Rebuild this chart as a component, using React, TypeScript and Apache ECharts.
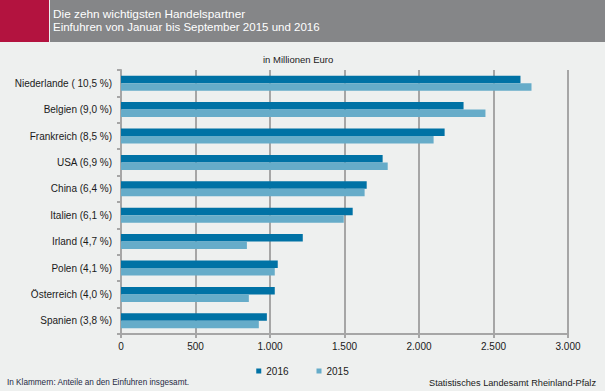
import React, { useEffect, useRef } from "react";
import * as echarts from "echarts";

const categories = [
  "Niederlande ( 10,5 %)",
  "Belgien (9,0 %)",
  "Frankreich (8,5 %)",
  "USA (6,9 %)",
  "China (6,4 %)",
  "Italien (6,1 %)",
  "Irland (4,7 %)",
  "Polen (4,1 %)",
  "Österreich (4,0 %)",
  "Spanien (3,8 %)",
];
const values2016 = [2681, 2299, 2172, 1756, 1649, 1555, 1220, 1052, 1032, 979];
const values2015 = [2755, 2446, 2098, 1790, 1635, 1495, 845, 1032, 858, 925];
const titleLines = [
  "Die zehn wichtigsten Handelspartner",
  "Einfuhren von Januar bis September 2015 und 2016",
];
const unitLabel = "in Millionen Euro";
const footnote = "In Klammern: Anteile an den Einfuhren insgesamt.";
const sourceText = "Statistisches Landesamt Rheinland-Pfalz";

const FONT = "'Liberation Sans', Arial, sans-serif";

export default function App() {
  const ref = useRef<HTMLDivElement>(null);
  useEffect(() => {
    const chart = echarts.init(ref.current!, null, { renderer: "svg" });
    chart.setOption({
      animation: false,
      backgroundColor: "#EEF0EF",
      textStyle: { fontFamily: FONT },
      graphic: [
        { type: "rect", left: 0, top: 0, shape: { width: 49, height: 42 }, style: { fill: "#B3133F" } },
        { type: "rect", left: 50, top: 0, shape: { width: 555, height: 42 }, style: { fill: "#858688" } },
        { type: "text", left: 53, top: 8, style: { text: titleLines[0], fill: "#FFFFFF", font: `11.8px ${FONT}` } },
        { type: "text", left: 53, top: 21, style: { text: titleLines[1], fill: "#FFFFFF", font: `11.5px ${FONT}` } },
        { type: "text", left: 263, top: 54, style: { text: unitLabel, fill: "#1A1A1A", font: `9.5px ${FONT}` } },
        { type: "text", left: 7, top: 378, style: { text: footnote, fill: "#1F2A44", font: `8.2px ${FONT}` } },
        { type: "text", right: 9, top: 378, style: { text: sourceText, fill: "#1A1A1A", font: `9.2px ${FONT}` } },
      ],
      legend: {
        top: 361,
        left: "center",
        itemWidth: 5,
        itemHeight: 5,
        itemGap: 28,
        icon: "rect",
        textStyle: { fontSize: 10, color: "#1A1A1A", fontFamily: FONT },
        data: ["2016", "2015"],
      },
      grid: { left: 121, right: 37, top: 70, bottom: 57 },
      xAxis: {
        type: "value",
        min: 0,
        max: 3000,
        interval: 500,
        axisLine: { show: true, lineStyle: { color: "#A6A6A6", width: 2 } },
        axisTick: { show: true, length: 4, lineStyle: { color: "#A6A6A6", width: 2 } },
        splitLine: { show: true, lineStyle: { color: "#A6A6A6", width: 2 } },
        axisLabel: {
          color: "#1A1A1A",
          fontSize: 10,
          margin: 7,
          formatter: (v: number) => v.toLocaleString("de-DE"),
        },
      },
      yAxis: {
        type: "category",
        data: categories,
        inverse: true,
        axisLine: { show: true, lineStyle: { color: "#A6A6A6", width: 2 } },
        axisTick: { show: true, length: 4, lineStyle: { color: "#A6A6A6", width: 2 } },
        axisLabel: { color: "#1A1A1A", fontSize: 10, margin: 9 },
      },
      series: [
        {
          name: "2016",
          type: "bar",
          data: values2016,
          barWidth: 7.5,
          barGap: "0%",
          itemStyle: { color: "#0072A5" },
        },
        {
          name: "2015",
          type: "bar",
          data: values2015,
          barWidth: 7.5,
          barGap: "0%",
          itemStyle: { color: "#66ACC9" },
        },
      ],
    });
    return () => chart.dispose();
  }, []);
  return <div ref={ref} style={{ width: 605, height: 391, position: "absolute", left: 0, top: 0 }} />;
}
